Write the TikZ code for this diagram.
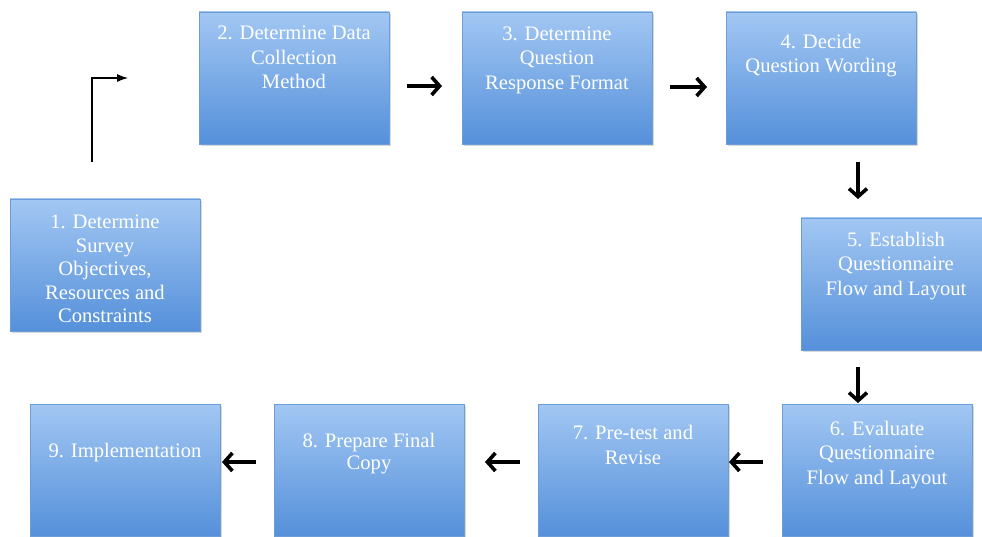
\documentclass[tikz,border=0pt]{standalone}
\usepackage{fontspec}
\setmainfont{Liberation Serif}
\usetikzlibrary{arrows.meta,shadows}

% box body: a fixed-size parbox with the text set near its top
\newcommand\bxtext[2]{\parbox[c][132pt][t]{190pt}{\centering\vspace*{#1}\fontsize{20.6}{24.5}\selectfont\color{white}#2\par}}

\definecolor{boxtop}{HTML}{A2C7F3}
\definecolor{boxbot}{HTML}{5590DA}
\definecolor{boxedge}{HTML}{6C9DD8}

\tikzset{
  stepbox/.style={draw=boxedge, line width=0.6pt, inner sep=0pt, outer sep=0pt,
    top color=boxtop, bottom color=boxbot,
    drop shadow={shadow xshift=1.5pt, shadow yshift=-2pt, opacity=0.25, fill=black!60}},
  flow/.style={line width=3.6pt, -{Straight Barb[length=8pt,width=18pt,line width=3.6pt]}},
  entry/.style={line width=1.1pt, -{Latex[length=11pt,width=8pt]}}
}

\begin{document}
\begin{tikzpicture}[x=1pt, y=-1pt]
  \useasboundingbox (0,0) rectangle (982,537);
  \clip (0,0) rectangle (982,537);

  % process steps
  \node[stepbox] (b1) at (105,265) {\bxtext{16pt}{\fontsize{20.6}{23.5}\selectfont 1. Determine\\Survey\\Objectives,\\Resources and\\Constraints}};
  \node[stepbox] (b2) at (294,78)  {\bxtext{14pt}{2. Determine Data\\Collection\\Method}};
  \node[stepbox] (b3) at (557,78)  {\bxtext{14.5pt}{3. Determine\\Question\\Response Format}};
  \node[stepbox] (b4) at (821,78)  {\bxtext{22pt}{4. Decide\\Question Wording}};
  \node[stepbox] (b5) at (896,284) {\bxtext{14pt}{5. Establish\\Questionnaire\\Flow and Layout}};
  \node[stepbox] (b6) at (877,470) {\bxtext{17pt}{6. Evaluate\\Questionnaire\\Flow and Layout}};
  \node[stepbox] (b7) at (633,470) {\bxtext{21.5pt}{7. Pre-test and\\Revise}};
  \node[stepbox] (b8) at (369,470) {\bxtext{29.5pt}{\fontsize{20.6}{22}\selectfont 8. Prepare Final\\Copy}};
  \node[stepbox] (b9) at (125,470) {\bxtext{39.5pt}{9. Implementation}};

  % entry arrow
  \coordinate (e0) at (92,162);
  \coordinate (e1) at (128,78);
  \draw[entry] (e0) |- (e1);

  % flow arrows
  \draw[flow, shorten <=18pt, shorten >=20pt] ([yshift=-8pt]b2.east) -- ([yshift=-8pt]b3.west);
  \draw[flow, shorten <=18pt, shorten >=19pt] ([yshift=-9pt]b3.east) -- ([yshift=-9pt]b4.west);
  \draw[flow, shorten <=18pt, shorten >=19pt] ([xshift=37pt]b4.south) -- ([xshift=37pt]b4.south |- b5.north);
  \draw[flow, shorten <=17pt, shorten >=1pt] ([xshift=-19pt]b6.north |- b5.south) -- ([xshift=-19pt]b6.north);
  \draw[flow, shorten <=19pt, shorten >=1pt] ([yshift=8pt]b6.west) -- ([yshift=8pt]b7.east);
  \draw[flow, shorten <=18pt, shorten >=21pt] ([yshift=8pt]b7.west) -- ([yshift=8pt]b8.east);
  \draw[flow, shorten <=18pt, shorten >=2pt] ([yshift=8pt]b8.west) -- ([yshift=8pt]b9.east);
\end{tikzpicture}
\end{document}
